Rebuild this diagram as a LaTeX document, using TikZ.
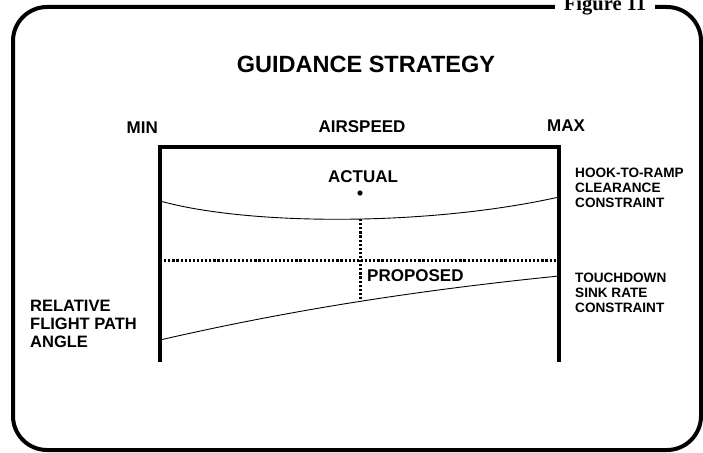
\documentclass[tikz,border=0pt]{standalone}
\usepackage{fontspec}
\setmainfont{Liberation Sans}
\newfontfamily\figfont{Liberation Serif}
\usepackage{tikz}
\usetikzlibrary{positioning}

\begin{document}
\begin{tikzpicture}[x=1pt,y=-1pt,line join=miter]
  \tikzstyle{framebox}=[line width=4pt,rounded corners=34pt]
  \tikzstyle{axisline}=[line width=3.6pt]
  \tikzstyle{limitline}=[line width=0.9pt]
  \tikzstyle{dotline}=[line width=3pt,dash pattern=on 2.2pt off 1.9pt]
  \tikzstyle{biglabel}=[inner sep=0pt,font=\bfseries\fontsize{17}{19}\selectfont]
  \tikzstyle{sidelabel}=[inner sep=0pt,align=left,anchor=west,
    font=\bfseries\fontsize{13.6}{15}\selectfont]
  \useasboundingbox (0,0) rectangle (703,452);
  % outer frame with figure number
  \draw[framebox] (13,7) rectangle (701,450);
  \node[fill=white,inner xsep=9pt,inner ysep=1pt,anchor=base,
    font=\figfont\bfseries\fontsize{20.5}{22}\selectfont] (fignum) at (605,11) {Figure 11};
  % title and axis labels
  \node[inner sep=0pt,font=\bfseries\fontsize{23.5}{26}\selectfont] (title) at (366,64) {GUIDANCE STRATEGY};
  \node[biglabel,anchor=east] (min) at (158,128) {MIN};
  \node[biglabel] (airspeed) at (362,127) {AIRSPEED};
  \node[biglabel,anchor=west] (max) at (547,126) {MAX};
  % plot frame
  \coordinate (tl) at (160,147);
  \coordinate (tr) at (559,147);
  \coordinate (bl) at (160,362);
  \coordinate (br) at (559,362);
  \draw[axisline] (bl) -- (tl) -- (tr) -- (br);
  % constraint boundaries
  \coordinate (hookL) at (160,201);
  \coordinate (hookR) at (559,197);
  \coordinate (sinkL) at (160,340);
  \coordinate (sinkR) at (559,276);
  \draw[limitline] (hookL) .. controls (250,226) and (430,226) .. (hookR);
  \draw[limitline] (sinkL) .. controls (290,310) and (420,290) .. (sinkR);
  % actual and proposed points
  \coordinate (propL) at (160,260);
  \coordinate (propR) at (559,260);
  \coordinate (actTop) at (360,219);
  \coordinate (actBot) at (360,301);
  \draw[dotline] (propL) -- (propR);
  \draw[dotline] (actTop) -- (actBot);
  \fill (360,193) circle (2.6pt);
  \node[biglabel] (actual) at (363,177) {ACTUAL};
  \node[biglabel,anchor=west] (proposed) at (367,276) {PROPOSED};
  % side labels
  \node[sidelabel] (hook) at (575,187.5) {HOOK-TO-RAMP\\CLEARANCE\\CONSTRAINT};
  \node[sidelabel] (sink) at (575,292.5) {TOUCHDOWN\\SINK RATE\\CONSTRAINT};
  \node[biglabel,align=left,anchor=west,font=\bfseries\fontsize{16.5}{18}\selectfont] (angle) at (30,324) {RELATIVE\\FLIGHT PATH\\ANGLE};
\end{tikzpicture}
\end{document}
